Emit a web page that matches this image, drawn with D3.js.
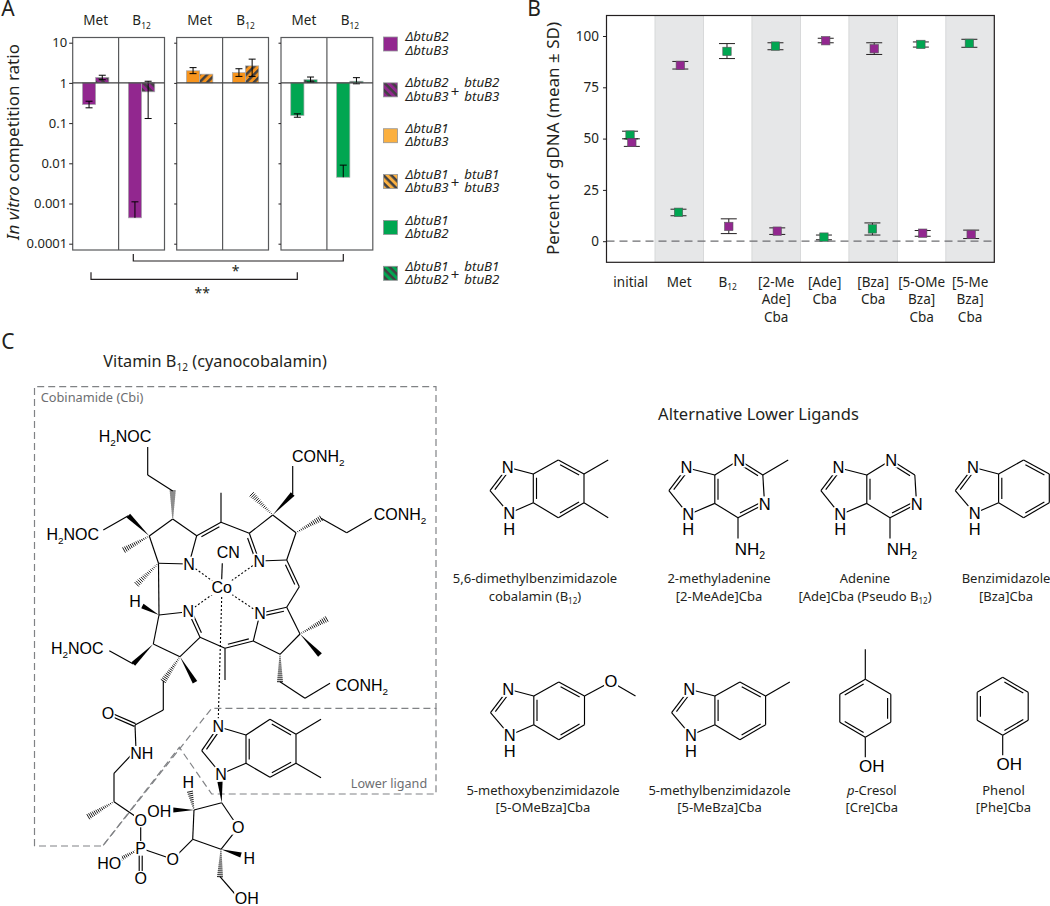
<!DOCTYPE html>
<html><head><meta charset="utf-8">
<script src="https://cdn.jsdelivr.net/npm/d3@7"></script>
<style>
html,body{margin:0;padding:0;background:#fff}
svg{display:block}
text{font-family:"Noto Sans","Open Sans",sans-serif;fill:#231f20}
.chem text{font-family:"Liberation Sans",Arial,sans-serif;fill:#000}
</style></head><body><div id="chart"></div>
<script>
// ---------- panel A data ----------
const conditionsA = ["Met","B~12~"];
const tickValuesA = [10,1,0.1,0.01,0.001,0.0001];
const tickLabelsA = ["10","1","0.1","0.01","0.001","0.0001"];
const panelColors = ["purple","orange","green"];
// one entry per panel: [Met solid, Met hatched, B12 solid, B12 hatched]
const barMeans = [[0.29,1.37,0.00044,0.6],[2.0,1.65,1.8,2.65],[0.155,1.2,0.0045,1.1]];
const barHigh  = [[0.35,1.55,0.0011,1.1],[2.4,null,2.25,3.9],[0.17,1.4,0.009,1.35]];
const barLow   = [[0.24,1.2,null,0.13],[1.7,null,1.45,1.45],[0.14,1.05,null,0.95]];
// ---------- legend ----------
const legendColors = ["purple","purple","orangeL","orangeL","green","green"];
const legendHatched = [false,true,false,true,false,true];
const legendFirst = [["ΔbtuB2","ΔbtuB3"],["ΔbtuB2","ΔbtuB3"],["ΔbtuB1","ΔbtuB3"],["ΔbtuB1","ΔbtuB3"],["ΔbtuB1","ΔbtuB2"],["ΔbtuB1","ΔbtuB2"]];
const legendSecond = [null,["btuB2","btuB3"],null,["btuB1","btuB3"],null,["btuB1","btuB2"]];
// ---------- panel B data ----------
const categoriesB = [["initial"],["Met"],["B~12~"],["[2-Me","Ade]","Cba"],["[Ade]","Cba"],["[Bza]","Cba"],["[5-OMe","Bza]","Cba"],["[5-Me","Bza]","Cba"]];
const ticksB = [0,25,50,75,100];
const greenMean = [51.7,14.1,92.5,95.1,2.0,6.0,95.9,96.4];
const greenHigh = [53.6,15.6,96.3,96.7,3.0,8.9,97.1,98.4];
const greenLow  = [49.9,12.4,89.0,93.3,0.7,3.0,94.6,94.5];
const purpleMean = [48.1,85.7,7.2,4.9,97.7,93.8,3.9,3.3];
const purpleHigh = [49.9,87.6,10.9,6.5,98.9,96.7,5.2,5.4];
const purpleLow  = [46.2,83.9,3.7,3.3,96.7,91.0,2.4,1.3];
// ---------- panel C captions ----------
const ligandCaptions = [
 ["5,6-dimethylbenzimidazole","cobalamin (B~12~)"],["2-methyladenine","[2-MeAde]Cba"],["Adenine","[Ade]Cba (Pseudo B~12~)"],["Benzimidazole","[Bza]Cba"],
 ["5-methoxybenzimidazole","[5-OMeBza]Cba"],["5-methylbenzimidazole","[5-MeBza]Cba"],["*p*-Cresol","[Cre]Cba"],["Phenol","[Phe]Cba"]];

const COL = {purple:"#92278f",orange:"#f7941d",orangeL:"#fbb040",green:"#00a651",dark:"#414042"};
const svg = d3.select("#chart").append("svg").attr("width",1050).attr("height",906).attr("viewBox","0 0 1050 906");
svg.append("rect").attr("width",1050).attr("height",906).attr("fill","#fff");
const defs = svg.append("defs");
function hatch(id,color,angle){
  const p = defs.append("pattern").attr("id",id).attr("patternUnits","userSpaceOnUse").attr("width",5.5).attr("height",5.5)
    .attr("patternTransform",`rotate(${angle})`);
  p.append("rect").attr("width",5.5).attr("height",5.5).attr("fill",color);
  p.append("rect").attr("width",5.5).attr("height",2.5).attr("fill",COL.dark);
}
["purple","orange","orangeL","green"].forEach(c=>{hatch("h-"+c+"-down",COL[c],45);hatch("h-"+c+"-up",COL[c],-45);});

// text with ~sub~ and *italic* markup
function rich(t,s,fs){
  let drop=0;
  s.split(/(~[^~]+~|\*[^*]+\*)/).filter(Boolean).forEach(p=>{
    const ts=t.append("tspan");
    let dy=-drop; drop=0;
    if(p[0]==="~"&&p.length>2){ts.text(p.slice(1,-1)).style("font-size",(fs*0.62)+"px");drop=fs*0.25;dy+=drop;}
    else if(p[0]==="*"&&p.length>2&&p!=="**"){ts.text(p.slice(1,-1)).style("font-style","italic");}
    else ts.text(p);
    if(dy) ts.attr("dy",dy);
  });
}
function label(g,s,x,y,fs,opt={}){
  const t=g.append("text").attr("x",x).attr("y",y+fs*0.35).attr("text-anchor",opt.anchor||"middle").style("font-size",fs+"px");
  if(opt.fill) t.style("fill",opt.fill);
  if(opt.italic) t.style("font-style","italic");
  if(opt.rotate!=null) t.attr("transform",`rotate(${opt.rotate},${x},${y})`);
  rich(t,s,fs);
  return t;
}
// panel letters
[["A",8,9],["B",534,9],["C",8,342]].forEach(d=>label(svg,d[0],d[1],d[2],21));

// ============ PANEL A ============
const gA = svg.append("g");
const yA = d3.scaleLog().domain([0.0001,10]).range([243.7,42.7]);
const panelLeft = [72.7,176.7,281];
const panelW = 91.8, topA=37.5, botA=250;
panelLeft.forEach((left,pi)=>{
  const slot = d3.scaleBand().domain(conditionsA).range([left,left+panelW]);
  const g = gA.append("g");
  conditionsA.forEach((c,ci)=>{
    const centre = slot(c)+slot.bandwidth()/2;
    const bx = d3.scaleBand().domain([0,1]).range([centre-13.2,centre+13.2]);
    [0,1].forEach(k=>{
      const idx=ci*2+k, v=barMeans[pi][idx], y0=yA(1), y1=yA(v);
      const col=panelColors[pi];
      const dir = pi===1 ? "up" : "down";
      g.append("rect").attr("x",bx(k)).attr("width",bx.bandwidth())
        .attr("y",Math.min(y0,y1)).attr("height",Math.abs(y1-y0))
        .attr("fill",k?`url(#h-${col}-${dir})`:COL[col]).attr("stroke","#a7a9ac").attr("stroke-width",0.7);
    });
    [0,1].forEach(k=>{
      const idx=ci*2+k, hi=barHigh[pi][idx], lo=barLow[pi][idx], v=barMeans[pi][idx];
      if(hi==null) return;
      const mx=bx(k)+bx.bandwidth()/2, bottom=lo==null?v:lo;
      g.append("line").attr("x1",mx).attr("x2",mx).attr("y1",yA(hi)).attr("y2",yA(bottom)).attr("stroke","#000").attr("stroke-width",1);
      const caps = lo==null?[hi]:[hi,lo];
      caps.forEach(u=>g.append("line").attr("x1",mx-3.5).attr("x2",mx+3.5).attr("y1",yA(u)).attr("y2",yA(u)).attr("stroke","#000").attr("stroke-width",1));
    });
    label(gA,c,centre,20.7,13.5);
  });
  // frame, divider, baseline
  g.append("rect").attr("x",left).attr("y",topA).attr("width",panelW).attr("height",botA-topA).attr("fill","none").attr("stroke","#58595b").attr("stroke-width",1.2);
  g.append("line").attr("x1",left+panelW/2).attr("x2",left+panelW/2).attr("y1",topA).attr("y2",botA).attr("stroke","#58595b").attr("stroke-width",1.2);
  g.append("line").attr("x1",left).attr("x2",left+panelW).attr("y1",yA(1)).attr("y2",yA(1)).attr("stroke","#414042").attr("stroke-width",1.2);
  // axis
  const ax = d3.axisLeft(yA).tickValues(tickValuesA).tickSize(pi===0?3.5:2.5).tickSizeOuter(0).tickFormat((d,i)=>pi===0?tickLabelsA[i]:"");
  const ag = gA.append("g").attr("transform",`translate(${left},0)`).call(ax);
  ag.select(".domain").remove();
  ag.selectAll(".tick line").attr("stroke","#231f20").attr("stroke-width",1);
  ag.selectAll(".tick text").style("font-size","13px").style("font-family",'"Noto Sans"').attr("x",-5.5).attr("fill","#231f20");
});
{
 const t=gA.append("text").attr("transform","translate(18.5,142) rotate(-90)").attr("text-anchor","middle").style("font-size","17px");
 t.attr("y",0); rich(t,"*In vitro* competition ratio",17);
}
// significance brackets
const bracket=d3.line();
[[[133.3,254],[133.3,261],[343.3,261],[343.3,254]],[[91,272.3],[91,279.3],[297.3,279.3],[297.3,272.3]]].forEach(pts=>
  gA.append("path").attr("d",bracket(pts)).attr("fill","none").attr("stroke","#231f20").attr("stroke-width",1.2));
label(gA,"*",235.7,271,14);
label(gA,"**",202.3,293,14);

// legend
const gL = svg.append("g");
const legendY = d3.scaleLinear().domain([0,5]).range([44,273.3]);
legendColors.forEach((c,i)=>{
  const cy=legendY(i);
  gL.append("rect").attr("x",383.5).attr("y",cy-7).attr("width",14).attr("height",14)
    .attr("fill",legendHatched[i]?`url(#h-${c}-down)`:COL[c]).attr("stroke","#939598").attr("stroke-width",0.8);
  legendFirst[i].forEach((s,j)=>label(gL,s,405.5,cy-7.2+j*13.2,13.3,{anchor:"start",italic:true}));
  if(legendSecond[i]){
    label(gL,"+",455,cy+1.5,15);
    legendSecond[i].forEach((s,j)=>label(gL,s,464.3,cy-7.2+j*13.2,13.3,{anchor:"start",italic:true}));
  }
});

// ============ PANEL B ============
const gB = svg.append("g");
const leftB=606.5,rightB=994.3,topB=15.5,botB=262.3;
const xB = d3.scaleBand().domain(d3.range(categoriesB.length)).range([leftB,rightB]);
const yB = d3.scaleLinear().domain([0,100]).range([241.2,36]);
categoriesB.forEach((c,i)=>{
  if(i%2===1) gB.append("rect").attr("x",xB(i)).attr("y",topB).attr("width",xB.bandwidth()).attr("height",botB-topB)
    .attr("fill","#e6e7e8").attr("stroke","#d1d3d4").attr("stroke-width",0.8);
});
gB.append("line").attr("x1",leftB).attr("x2",rightB).attr("y1",yB(0)).attr("y2",yB(0)).attr("stroke","#6d6e71").attr("stroke-width",1.2).attr("stroke-dasharray","8,5");
function series(mean,hi,lo,color,off){
  mean.forEach((m,i)=>{
    const cx=xB(i)+xB.bandwidth()/2+off;
    gB.append("line").attr("x1",cx).attr("x2",cx).attr("y1",yB(hi[i])).attr("y2",yB(lo[i])).attr("stroke","#231f20").attr("stroke-width",1);
    [hi[i],lo[i]].forEach(u=>gB.append("line").attr("x1",cx-8).attr("x2",cx+8).attr("y1",yB(u)).attr("y2",yB(u)).attr("stroke","#231f20").attr("stroke-width",1));
    gB.append("rect").attr("x",cx-4.2).attr("y",yB(m)-4.2).attr("width",8.4).attr("height",8.4).attr("fill",color).attr("stroke","#58595b").attr("stroke-width",0.6);
  });
}
series(greenMean,greenHigh,greenLow,COL.green,-0.7);
series(purpleMean,purpleHigh,purpleLow,COL.purple,1.1);
gB.append("rect").attr("x",leftB).attr("y",topB).attr("width",rightB-leftB).attr("height",botB-topB).attr("fill","none").attr("stroke","#231f20").attr("stroke-width",1.2);
const axB = d3.axisLeft(yB).tickValues(ticksB).tickSize(3.5).tickSizeOuter(0);
const agB = gB.append("g").attr("transform",`translate(${leftB},0)`).call(axB);
agB.select(".domain").remove();
agB.selectAll(".tick line").attr("stroke","#231f20");
agB.selectAll(".tick text").style("font-size","13.5px").style("font-family",'"Noto Sans"').attr("x",-7.5).attr("fill","#231f20");
categoriesB.forEach((lines,i)=>lines.forEach((s,j)=>label(gB,s,xB(i)+xB.bandwidth()/2,282+j*17.5,13.5)));
label(gB,"Percent of gDNA (mean ± SD)",552.8,138.5,17,{rotate:-90});

// ============ PANEL C ============
const gC = svg.append("g");
label(gC,"Vitamin B~12~ (cyanocobalamin)",215,361.7,16.3);
label(gC,"Alternative Lower Ligands",758.5,414,16.5);
ligandCaptions.forEach((cap,i)=>{
  const cx=[535,719,865,1006,543,719.5,871.8,1003.5][i];
  const y0=i<4?578.5:790;
  cap.forEach((s,j)=>label(gC,s,cx,y0+j*17.8,13));
});
// dashed region outlines
const dashG=gC.append("g").attr("fill","none").attr("stroke","#808285").attr("stroke-dasharray","7,4");
dashG.append("path").attr("stroke-width",1.2).attr("d",d3.line()([[34.5,846],[34.5,386.7],[436,386.7],[436,708.3],[211.7,708.3],[102.7,846],[34.5,846]]));
dashG.append("path").attr("stroke-width",1.2).attr("d",d3.line()([[436,708.3],[436,794],[211.7,794],[179.3,747.3],[102.7,846]]));
label(gC,"Cobinamide (Cbi)",92,397.3,12.8,{fill:"#6d6e71"});
label(gC,"Lower ligand",389,783.3,12.6,{fill:"#6d6e71"});

// molecule drawing helpers
const chem=gC.append("g").attr("class","chem");
function drawBond(g,kind,a,b,side){
  const dx=b[0]-a[0],dy=b[1]-a[1],len=Math.hypot(dx,dy),nx=-dy/len,ny=dx/len;
  const ln=(p,q,w=1.15)=>g.append("path").attr("d",d3.line()([p,q])).attr("stroke","#000").attr("stroke-width",w).attr("fill","none");
  if(kind==="s") ln(a,b);
  if(kind==="d"){
    ln(a,b);
    const o=3.2*(side||1),tr=0.13;
    ln([a[0]+dx*tr+nx*o,a[1]+dy*tr+ny*o],[b[0]-dx*tr+nx*o,b[1]-dy*tr+ny*o]);
  }
  if(kind==="D"){
    const o=1.5;
    ln([a[0]+nx*o,a[1]+ny*o],[b[0]+nx*o,b[1]+ny*o]);
    ln([a[0]-nx*o,a[1]-ny*o],[b[0]-nx*o,b[1]-ny*o]);
  }
  if(kind==="w"){
    const w=2.6;
    g.append("path").attr("d",d3.line()([a,[b[0]+nx*w,b[1]+ny*w],[b[0]-nx*w,b[1]-ny*w]])+"Z").attr("fill","#000");
  }
  if(kind==="h"){
    const n=Math.max(4,Math.round(len/2));
    d3.range(1,n+1).forEach(i=>{
      const f=i/n,cx=a[0]+dx*f,cy=a[1]+dy*f,w=0.4+2.6*f;
      ln([cx+nx*w,cy+ny*w],[cx-nx*w,cy-ny*w],0.9);
    });
  }
  if(kind==="o"){
    ln(a,b,1.1).attr("stroke-dasharray","2,2");
  }
}
function drawMol(pts,bonds,atoms,fs){
  const g=chem.append("g");
  bonds.forEach(b=>drawBond(g,b[0],pts[b[1]]||b[1],pts[b[2]]||b[2],b[3]));
  atoms.forEach(a=>{
    const size=a[3]||fs;
    const t=label(g,a[0],a[1],a[2],size);
    const box=t.node().getBBox();
    g.insert("rect",()=>t.node()).attr("x",box.x-0.5).attr("width",box.width+1)
      .attr("y",a[2]-size*0.46).attr("height",size*0.92).attr("fill","#fff");
  });
}
// Vitamin B12 skeleton (drawing geometry)
const B={a1:[149.3,536],a2:[172.7,519],a3:[196.7,535.7],n1:[189,564],a4:[158.5,563.3],
 p1:[172.7,491],p2:[147.7,475],p3:[147.7,447],
 q1:[128.3,515.7],q2:[103.3,530],
 b1:[221,522.3],b2:[221,492.7],
 c1:[249.3,533.3],c2:[272.7,515],c3:[296,532.7],c4:[286.7,560],n2:[259.3,561],
 e1s:[292.7,494],e2s:[292.7,466],
 g1:[321,518.3],g2:[346.7,532.7],g3:[371.7,518.3],
 d1:[299.3,586.7],d2:[286.7,607.3],n3:[260,613.3],d3:[300,634],d4:[280,654.3],d5:[253.3,641],
 i1:[280,681.7],i2:[305,698.3],i3:[330,683.3],
 e1:[225,648.3],e2:[225,680],f1:[200,637.3],n4:[188.3,611.7],f2:[180,656.7],f3:[153.3,644],f4:[159,615],
 j1:[133.3,664],j2:[109.3,650.7],
 k1:[163.3,681],k2:[163.3,710],k3:[135,725],ox:[108.3,713.3],nh:[136,750],k4:[114,773.3],k5:[114,801.7],k6:[88.3,816.7],o1:[140.7,820],
 P:[140.7,848.3],o2:[172.7,859.3],o3:[140.7,878.3],ho:[112,863.3],
 r1:[192.7,839.3],r2:[194,810],r3:[221.7,802.7],ro:[238.3,827.3],r4:[221,849.3],
 rh1:[190,791.7],roh:[173.3,810],rh2:[241,855],s1:[220,876.7],s2:[235,894],s3:[243,897],
 nt:[218.3,726.7],c2b:[201.7,750.7],nb:[221,774],c3a:[246,735],c7a:[246,763.3],c4b:[270,719.3],c5b:[296,734.3],c6b:[296,763.3],c7b:[270,777.3],m5:[321,719.3],m6:[321,777.7],
 co:[221.7,587.7]};
drawMol(B,[
 ["s","a1","a2"],["s","a2","a3"],["s","a3","n1"],["s","n1","a4"],["s","a4","a1"],["s","a4","f4"],
 ["h","a2","p1"],["s","p1","p2"],["s","p2","p3"],["w","a1","q1"],["s","q1","q2"],
 ["h","a1",[124,550]],["h","a4",[136.7,584.3]],
 ["d","a3","b1",1],["s","b1","b2"],["s","b1","c1"],
 ["d","c1","n2",1],["s","n2","c4"],["s","c4","c3"],["s","c3","c2"],["s","c2","c1"],
 ["w","c2","e1s"],["s","e1s","e2s"],["h","c2",[251.7,494.3]],
 ["h","c3","g1"],["s","g1","g2"],["s","g2","g3"],
 ["d","c4","d1",1],["s","d1","d2"],["d","d2","n3",-1],["s","n3","d5"],["s","d2","d3"],["s","d3","d4"],["s","d4","d5"],
 ["h","d3",[326.7,619]],["w","d3",[320,655]],
 ["h","d4","i1"],["s","i1","i2"],["s","i2","i3"],
 ["d","d5","e1",1],["s","e1","e2"],["s","e1","f1"],["d","f1","n4",1],["s","n4","f4"],["s","f4","f3"],["s","f3","f2"],["s","f2","f1"],
 ["w","f4",[142.3,606]],["w","f3","j1"],["s","j1","j2"],["w","f2",[195,682.3]],
 ["h","f2","k1"],["s","k1","k2"],["s","k2","k3"],["D","k3","ox"],["s","k3","nh"],["s","nh","k4"],["s","k4","k5"],["h","k5","k6"],["s","k5","o1"],
 ["s","o1","P"],["s","P","o2"],["D","P","o3"],["h","P","ho"],["s","o2","r1"],
 ["s","r1","r2"],["s","r2","r3"],["s","r3","ro"],["s","ro","r4"],["s","r4","r1"],
 ["h","r2","rh1"],["w","r2","roh"],["w","r3",[220,781.7]],["w","r4","rh2"],["h","r4","s1"],["s","s1","s2"],
 ["d","nt","c2b",-1],["s","c2b","nb"],["s","nt","c3a"],["s","nb","c7a"],["d","c3a","c7a",-1],["s","c3a","c4b"],["d","c4b","c5b",1],["s","c5b","c6b"],["d","c6b","c7b",1],["s","c7b","c7a"],["s","c5b","m5"],["s","c6b","m6"],
 ["o",[221.7,597],[218.3,718.3]],
 ["o","n1","co"],["o","n2","co"],["o","n3","co"],["o","n4","co"],
 ["s",[222.3,563.3],[221.7,579.3]]
],[
 ["H~2~NOC",125,436.7],["H~2~NOC",72.7,534],["CONH~2~",318.3,456.7],["CONH~2~",400,514.3],["H~2~NOC",77.3,648.3],["CONH~2~",361.7,685],
 ["N",189,564],["N",259.3,561],["N",260,613.3],["N",188.3,611.7],["CN",228.3,552.3],["Co",221.7,587.7],["H",135,601.7],
 ["O",108,713],["NH",141.7,753.3],["O",140.7,820],["P",140.7,848.3],["O",172.7,859.3],["O",140.7,878.3],["HO",109.3,863.3],
 ["H",188.3,782.7],["OH",159.3,811],["O",238.3,827.3],["H",249.3,858],["OH",246.7,898.5],
 ["N",218.3,726.7],["N",221,774]
],16);

// ligand templates
function imid(o){ return {nt:o,c2:[o[0]-17.7,o[1]+23.4],nb:[o[0]+1.6,o[1]+46],a:[o[0]+25.6,o[1]+6.7],b:[o[0]+25.6,o[1]+35.4],c4:[o[0]+50.6,o[1]-7.3],c5:[o[0]+76.3,o[1]+6.7],c6:[o[0]+76.3,o[1]+35.4],c7:[o[0]+50.6,o[1]+50.4],me5:[o[0]+100.5,o[1]-7.3],me6:[o[0]+100.5,o[1]+50.4]}; }
const imidBonds=[["d","nt","c2",-1],["s","c2","nb"],["s","nt","a"],["s","nb","b"],["d","a","b",-1],["s","a","c4"],["d","c4","c5",1],["s","c5","c6"],["d","c6","c7",1],["s","c7","b"]];
function imidAtoms(o){ return [["N",o[0],o[1]],["N",o[0]+1.6,o[1]+46],["H",o[0]+1.6,o[1]+62]]; }
[[507.7,467.3,"dm"],[973,467.3,""],[508.2,689.3,"ome"],[689.3,689.3,"me"]].forEach(d=>{
  const o=[d[0],d[1]],p=imid(o),b=imidBonds.slice(),a=imidAtoms(o);
  if(d[2]==="dm"){b.push(["s","c5","me5"],["s","c6","me6"]);}
  if(d[2]==="me"){b.push(["s","c5","me5"]);}
  if(d[2]==="ome"){p.ox=[611,681.7];p.om=[635.5,696];b.push(["s","c5","ox"],["s","ox","om"]);a.push(["O",611,681.7]);}
  drawMol(p,b,a,16.5);
});
// purines
[[686.4,467.7,true],[838.4,467.7,false]].forEach(d=>{
  const o=[d[0],d[1]],r=(x,y)=>[o[0]+x,o[1]+y];
  const p={nt:o,c2:r(-17.5,23),nb:r(1.8,47),a:r(28.4,7.3),b:r(28.4,35.7),n1:r(52.7,-7.7),c:r(76.4,7.3),n3:r(78.2,36.3),c6:r(51.6,50),me:r(101.8,-7.7),nh:r(51.6,70.7)};
  const b=[["d","nt","c2",-1],["s","c2","nb"],["s","nt","a"],["s","nb","b"],["d","a","b",-1],["s","a","n1"],["d","n1","c",1],["s","c","n3"],["d","n3","c6",1],["s","c6","b"],["s","c6","nh"]];
  if(d[2]) b.push(["s","c","me"]);
  drawMol(p,b,[["N",o[0],o[1]],["N",o[0]+1.8,o[1]+47],["H",o[0]+1.8,o[1]+62],["N",o[0]+52.7,o[1]-7.7],["N",o[0]+78.2,o[1]+36.3],["NH~2~",o[0]+63.6,o[1]+81.3,17]],16.5);
});
// phenols
[[865.3,679.3,[1,3,5],true],[1002.7,677.3,[0,2,4],false]].forEach(d=>{
  const x=d[0],y=d[1];
  const ring=[[x,y],[x+25.5,y+15],[x+25.5,y+43],[x,y+58],[x-25.5,y+43],[x-25.5,y+15]];
  const b=ring.map((q,i)=>[d[2].includes(i)?"d":"s",q,ring[(i+1)%6],1]);
  b.push(["s",ring[3],[x,y+78]]);
  if(d[3]) b.push(["s",ring[0],[x,y-30]]);
  drawMol({},b,[["OH",x+6.5,y+87,17]],17);
});
</script></body></html>
